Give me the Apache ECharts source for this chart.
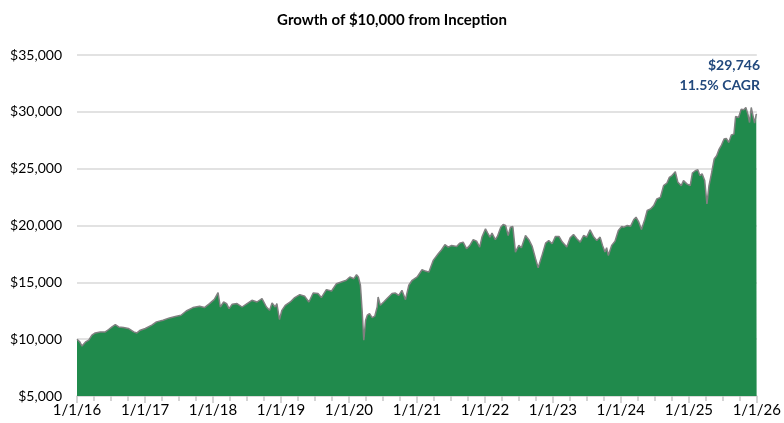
<!DOCTYPE html>
<html>
<head>
<meta charset="utf-8">
<title>Growth of $10,000 from Inception</title>
<script src="https://cdn.jsdelivr.net/npm/echarts@6/dist/echarts.min.js"></script>
<style>
  html, body { margin: 0; padding: 0; background: #fff; }
  #chart { width: 784px; height: 423px; }
</style>
</head>
<body>
<div id="chart"></div>
<script>
// values (growth of $10,000)
var dates = [
  '2016-01-01','2016-01-16','2016-01-28','2016-02-16','2016-03-04','2016-03-21','2016-04-08','2016-05-05',
  '2016-06-01','2016-06-19','2016-07-07','2016-07-25','2016-08-12','2016-09-07','2016-10-03','2016-11-01',
  '2016-11-18','2016-12-06','2017-01-02','2017-02-06','2017-03-03','2017-04-07','2017-05-12','2017-06-18',
  '2017-07-13','2017-08-10','2017-09-15','2017-10-21','2017-11-16','2017-12-13','2018-01-08','2018-01-28',
  '2018-02-09','2018-02-27','2018-03-15','2018-03-28','2018-04-14','2018-05-10','2018-06-06','2018-07-03',
  '2018-07-29','2018-08-25','2018-09-21','2018-10-15','2018-11-01','2018-11-14','2018-12-01','2018-12-10',
  '2018-12-24','2019-01-06','2019-01-24','2019-02-20','2019-03-16','2019-04-12','2019-05-09','2019-05-31',
  '2019-06-23','2019-07-19','2019-08-06','2019-09-02','2019-09-30','2019-10-26','2019-11-21','2019-12-18',
  '2020-01-06','2020-01-28','2020-02-11','2020-02-21','2020-03-03','2020-03-12','2020-03-21','2020-03-31',
  '2020-04-09','2020-04-21','2020-05-05','2020-05-19','2020-06-01','2020-06-06','2020-06-18','2020-07-06',
  '2020-07-24','2020-08-20','2020-09-07','2020-09-25','2020-10-12','2020-10-31','2020-11-18','2020-12-06',
  '2021-01-02','2021-01-28','2021-02-15','2021-03-06','2021-03-29','2021-04-25','2021-05-13','2021-05-31',
  '2021-06-18','2021-07-06','2021-08-02','2021-08-19','2021-09-06','2021-09-24','2021-10-12','2021-10-30',
  '2021-11-17','2021-12-04','2021-12-16','2022-01-04','2022-01-16','2022-01-28','2022-02-08','2022-02-26',
  '2022-03-09','2022-03-27','2022-04-09','2022-04-22','2022-05-06','2022-05-18','2022-05-31','2022-06-14',
  '2022-07-02','2022-07-16','2022-08-07','2022-08-25','2022-09-12','2022-09-30','2022-10-14','2022-11-01',
  '2022-11-23','2022-12-10','2022-12-28','2023-01-15','2023-02-03','2023-02-21','2023-03-17','2023-04-04',
  '2023-04-22','2023-05-10','2023-05-28','2023-06-15','2023-07-02','2023-07-20','2023-08-07','2023-08-25',
  '2023-09-12','2023-09-25','2023-10-08','2023-10-17','2023-10-26','2023-11-13','2023-12-01','2023-12-19',
  '2024-01-06','2024-01-18','2024-02-05','2024-02-23','2024-03-11','2024-03-23','2024-04-07','2024-04-21',
  '2024-05-09','2024-05-22','2024-06-09','2024-06-26','2024-07-13','2024-08-01','2024-08-18','2024-09-05',
  '2024-09-18','2024-10-02','2024-10-20','2024-11-03','2024-11-21','2024-12-03','2024-12-21','2025-01-08',
  '2025-01-20','2025-02-04','2025-02-18','2025-03-01','2025-03-13','2025-03-27','2025-04-08','2025-04-19',
  '2025-05-03','2025-05-17','2025-05-30','2025-06-11','2025-06-25','2025-07-09','2025-07-21','2025-08-03',
  '2025-08-17','2025-08-31','2025-09-09','2025-09-25','2025-10-09','2025-10-23','2025-11-03','2025-11-14',
  '2025-11-23','2025-12-02','2025-12-11','2025-12-20','2025-12-29','2025-12-31'
];
var values = [
  10000, 9760, 9390, 9760, 9910, 10350, 10550, 10640,
  10640, 10850, 11080, 11290, 11080, 11020, 10940, 10640,
  10550, 10790, 10940, 11230, 11520, 11670, 11870, 12020,
  12100, 12480, 12780, 12900, 12780, 13130, 13500, 14100,
  12830, 13270, 13130, 12690, 13070, 13130, 12830, 13130,
  13420, 13270, 13570, 12830, 12540, 13190, 12830, 13130,
  11730, 12540, 12980, 13270, 13660, 13920, 13770, 13270,
  14060, 14010, 13660, 14360, 14240, 14880, 15030, 15180,
  15470, 15320, 15670, 15470, 14740, 12540, 9910, 11670,
  12110, 12250, 11900, 12020, 12830, 13710, 12980, 13270,
  13570, 14010, 14060, 13860, 14300, 13480, 14740, 15180,
  15470, 16110, 15990, 15900, 16930, 17510, 17870, 18310,
  18100, 18250, 18160, 18450, 18540, 17960, 18250, 18750,
  18620, 18100, 18980, 19710, 19330, 18980, 19330, 18750,
  19040, 19850, 20090, 20000, 19120, 19850, 19910, 17660,
  18250, 18040, 19120, 18750, 18160, 17080, 16290, 17220,
  18450, 18680, 18390, 19040, 19040, 18540, 18100, 18920,
  19210, 18830, 18540, 19120, 18980, 19620, 19040, 18680,
  18980, 18250, 17660, 18040, 17370, 18250, 18620, 19560,
  19910, 19850, 20000, 19940, 20530, 20730, 20290, 19650,
  20530, 21320, 21460, 21750, 22340, 22480, 23510, 23740,
  24240, 24390, 24740, 23800, 23510, 23950, 23660, 23510,
  24620, 24820, 24910, 24390, 24540, 23950, 21900, 23510,
  24620, 25850, 26140, 26670, 27080, 27610, 27660, 27310,
  27960, 28040, 29590, 29500, 30240, 30180, 30380, 29800,
  29060, 30380, 30470, 29000, 29800, 29746
];
var yTicks = [5000, 10000, 15000, 20000, 25000, 30000, 35000];
var quarterCount = 40; // quarterly tick marks on the date axis
var endValue = '$29,746';
var cagrText = '11.5% CAGR';

var myChart = echarts.init(document.getElementById('chart'));

var seriesData = dates.map(function (d, i) {
    return [d, values[i]];
});

var fontFam = 'Lato, "Open Sans", sans-serif';
var tickStyle = { color: '#c8c8c8', width: 1.5 };

var option = {
    animation: false,
    backgroundColor: '#fff',
    title: {
        text: 'Growth of $10,000 from Inception',
        left: 'center',
        top: 8,
        textStyle: {
            fontFamily: fontFam,
            fontSize: 15,
            fontWeight: 'bold',
            color: '#000'
        }
    },
    grid: {
        left: 77,
        right: 22,
        top: 55,
        bottom: 27
    },
    xAxis: [
        {
            type: 'time',
            min: '2016-01-01',
            max: '2026-01-01',
            splitNumber: 10,
            minInterval: 365 * 86400000,
            maxInterval: 366 * 86400000,
            axisLine: { show: true, lineStyle: { color: '#d9d9d9', width: 1.5 } },
            axisTick: { show: true, length: 7, lineStyle: tickStyle },
            splitLine: { show: false },
            axisLabel: {
                showMinLabel: true,
                showMaxLabel: true,
                margin: 7,
                fontFamily: fontFam,
                fontSize: 15,
                color: '#000',
                formatter: function (val) {
                    var d = new Date(val);
                    return (d.getMonth() + 1) + '/' + d.getDate() + '/' + String(d.getFullYear()).slice(2);
                }
            }
        },
        {
            // quarter marks only
            type: 'value',
            position: 'bottom',
            min: 0,
            max: quarterCount,
            interval: 1,
            axisLine: { show: false },
            axisTick: { show: true, length: 5, lineStyle: tickStyle },
            axisLabel: { show: false },
            splitLine: { show: false }
        }
    ],
    yAxis: {
        type: 'value',
        min: yTicks[0],
        max: yTicks[yTicks.length - 1],
        interval: yTicks[1] - yTicks[0],
        axisLine: { show: false },
        axisTick: { show: false },
        splitLine: { lineStyle: { color: '#d9d9d9', width: 1.5 } },
        axisLabel: {
            margin: 15,
            fontFamily: fontFam,
            fontSize: 14,
            color: '#000',
            formatter: function (v) {
                return '$' + v.toLocaleString('en-US');
            }
        }
    },
    graphic: [
        {
            type: 'text',
            right: 24,
            top: 58,
            style: {
                text: endValue,
                fontFamily: fontFam,
                fontSize: 14,
                fontWeight: 'bold',
                fill: '#22497D'
            }
        },
        {
            type: 'text',
            right: 24,
            top: 78,
            style: {
                text: cagrText,
                fontFamily: fontFam,
                fontSize: 14,
                fontWeight: 'bold',
                fill: '#22497D'
            }
        }
    ],
    series: [
        {
            name: 'Growth',
            type: 'line',
            xAxisIndex: 0,
            data: seriesData,
            symbol: 'none',
            lineStyle: { color: '#808080', width: 1.5 },
            areaStyle: { color: '#208A4C', opacity: 1 },
            z: 3
        }
    ]
};
myChart.setOption(option);
</script>
</body>
</html>
